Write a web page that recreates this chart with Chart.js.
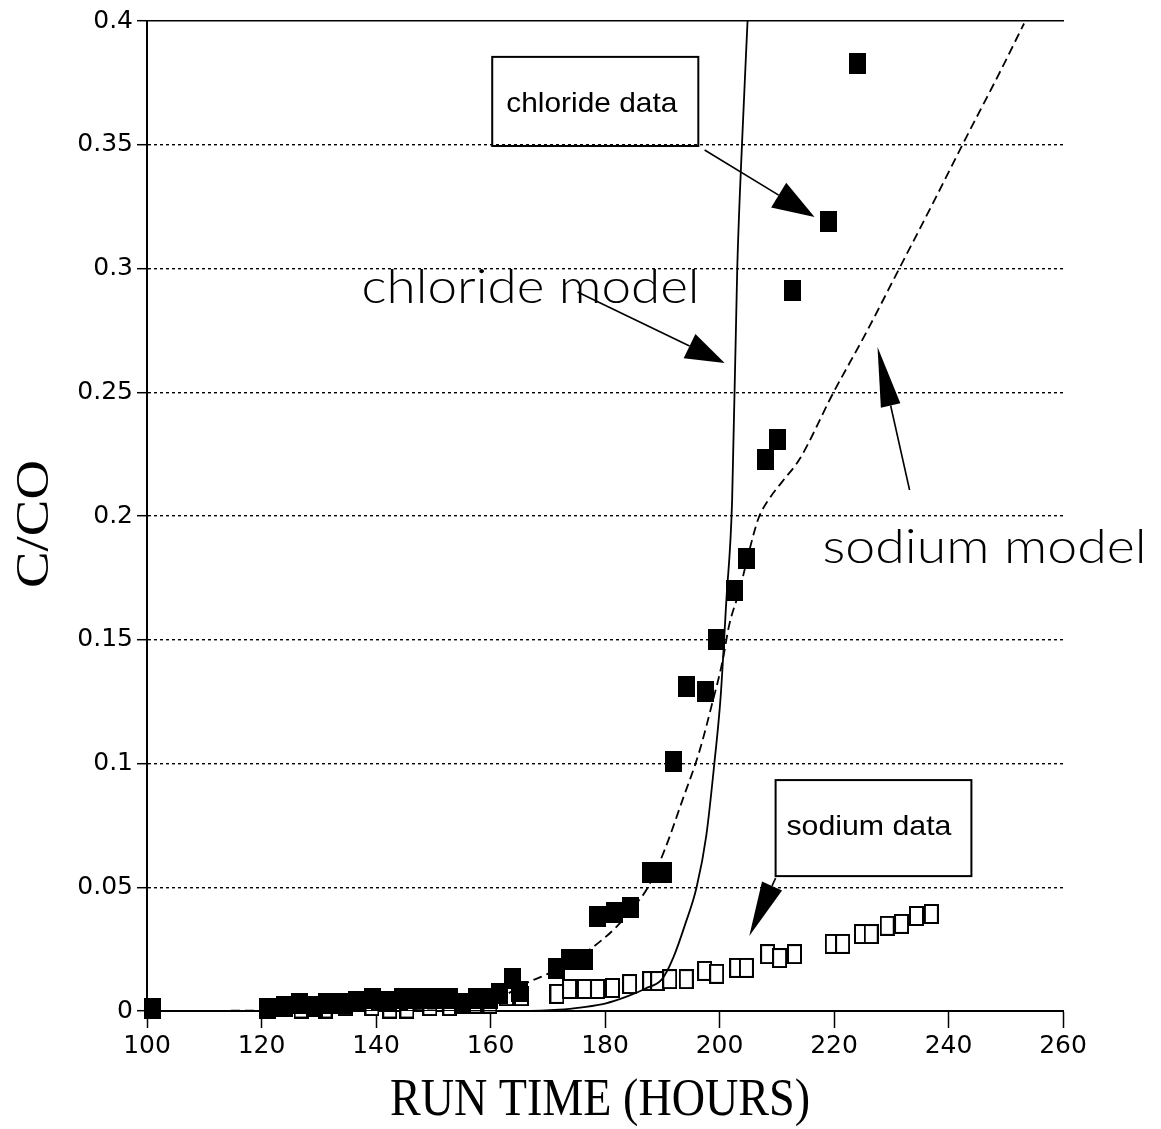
<!DOCTYPE html>
<html>
<head>
<meta charset="utf-8">
<script src="https://cdn.jsdelivr.net/npm/chart.js@4/dist/chart.umd.min.js"></script>
<style>
html,body{margin:0;padding:0;background:#fff;}
#wrap{width:1161px;height:1129px;position:relative;}
</style>
</head>
<body>
<div id="wrap"><canvas id="c" width="1161" height="1129"></canvas></div>
<script>
// ---------- data ----------
const xTicks = [100,120,140,160,180,200,220,240,260];
const yTicks = [0,0.05,0.1,0.15,0.2,0.25,0.3,0.35,0.4];
const yTickLabels = ['0','0.05','0.1','0.15','0.2','0.25','0.3','0.35','0.4'];
const xTitle = 'RUN TIME (HOURS)';
const yTitle = 'C/CO';

const chlorideHours = [100.9,121.1,124.1,126.7,129.3,131.4,134.2,136.6,139.4,142,144.7,147.6,150.3,152.9,155.1,157.6,159.9,161.6,163.9,165.1,171.6,173.8,176.4,178.7,181.7,184.5,188,190.3,192,194.2,197.6,199.5,202.6,204.7,208,210.1,212.7,219,224.1];
const chlorideConc  = [0.001,0.001,0.002,0.003,0.002,0.003,0.003,0.004,0.005,0.004,0.005,0.005,0.005,0.005,0.003,0.005,0.005,0.007,0.013,0.008,0.017,0.021,0.021,0.038,0.040,0.042,0.056,0.056,0.101,0.131,0.129,0.150,0.170,0.183,0.223,0.231,0.291,0.319,0.383];

const sodiumHours = [126.9,131.1,134.6,139.3,142.4,145.4,149.4,152.9,157.2,159.9,162.8,165.4,171.6,173.8,176.4,178.7,181.3,184.3,187.8,189.2,191.3,194.2,197.4,199.5,203,204.7,208.4,210.5,213.1,219.7,221.5,224.8,226.5,229.3,231.8,234.4,237];
const sodiumConc  = [0.001,0.001,0.002,0.002,0.001,0.001,0.002,0.002,0.003,0.003,0.006,0.006,0.0069,0.0089,0.0089,0.0089,0.0093,0.0109,0.0121,0.0121,0.0129,0.0129,0.0162,0.0150,0.0174,0.0174,0.0230,0.0214,0.0230,0.0271,0.0271,0.0311,0.0311,0.0344,0.0352,0.0384,0.0392];

const chlorideModelHours = [100,165,172,176,180,184,187,190,192,194,196,197.7,199.1,200.2,201.2,202.2,203.1,204,204.9];
const chlorideModelConc  = [0,0,0.0005,0.0015,0.003,0.006,0.009,0.013,0.022,0.035,0.050,0.071,0.100,0.127,0.166,0.206,0.300,0.354,0.400];

const sodiumModelHours = [100,150,158,163,166,170,174,178,182,185,187.5,190.4,193.5,196.5,198.8,200.5,201.7,203.5,205.2,206.8,208.7,211,214,219.7,225.6,231.4,237.2,243.1,248.9,253.2];
const sodiumModelConc  = [0,0.001,0.003,0.007,0.011,0.015,0.020,0.026,0.034,0.042,0.050,0.065,0.085,0.105,0.125,0.141,0.156,0.170,0.186,0.199,0.207,0.214,0.223,0.249,0.274,0.300,0.326,0.353,0.379,0.399];

// ---------- annotations (data coordinates) ----------
const noteBoxes = [
  {x1:160.3, x2:196.3, y1:0.3855, y2:0.3495},
  {x1:209.8, x2:244.0, y1:0.0933, y2:0.0545}
];
const noteTexts = [
  {text:'chloride data',  x:177.7, y:0.3632, font:'28px "Liberation Sans"', width:171},
  {text:'sodium data',    x:226.1, y:0.0711, font:'28px "Liberation Sans"', width:165},
  {text:'chloride model', x:167.0, y:0.2861, font:'300 48px Lato', width:338},
  {text:'sodium model',   x:246.3, y:0.1810, font:'300 48px Lato', width:324}
];
const noteArrows = [
  {x1:197.4, y1:0.3479, x2:216.6, y2:0.3208, head:42, hw:29},
  {x1:175.2, y1:0.2905, x2:200.9, y2:0.2618, head:39, hw:27},
  {x1:233.2, y1:0.2105, x2:227.6, y2:0.2683, head:60, hw:20},
  {x1:209.8, y1:0.0537, x2:205.2, y2:0.0303, head:55, hw:22}
];

// ---------- helpers ----------
function makeRect(w, h, fill, stroke, lw) {
  const c = document.createElement('canvas');
  c.width = w; c.height = h;
  const g = c.getContext('2d');
  g.fillStyle = fill; g.fillRect(0, 0, w, h);
  if (stroke) { g.strokeStyle = stroke; g.lineWidth = lw; g.strokeRect(lw/2, lw/2, w-lw, h-lw); }
  return c;
}
function drawFitted(ctx, text, font, cx, by, targetW, rot) {
  ctx.save();
  ctx.translate(cx, by);
  ctx.rotate(rot || 0);
  ctx.font = font;
  const w = ctx.measureText(text).width;
  ctx.scale(targetW / w, 1);
  ctx.textAlign = 'center';
  ctx.textBaseline = 'alphabetic';
  ctx.fillStyle = '#000';
  ctx.fillText(text, 0, 0);
  ctx.restore();
}
const filledSquare = makeRect(17, 21, '#000', null, 0);
const openSquare = makeRect(15, 20, '#fff', '#000', 2);

const toXY = (xs, ys) => xs.map((v, i) => ({x: v, y: ys[i]}));

const notesPlugin = {
  id: 'notes',
  afterDatasetsDraw(chart) {
    const {ctx, scales: {x, y}} = chart;
    ctx.save();
    ctx.strokeStyle = '#000';
    ctx.fillStyle = '#000';
    ctx.lineWidth = 2;
    for (const b of noteBoxes) {
      const l = x.getPixelForValue(b.x1), r = x.getPixelForValue(b.x2);
      const t = y.getPixelForValue(b.y1), bt = y.getPixelForValue(b.y2);
      ctx.strokeRect(l, t, r - l, bt - t);
    }
    for (const n of noteTexts) {
      drawFitted(ctx, n.text, n.font, x.getPixelForValue(n.x), y.getPixelForValue(n.y), n.width, 0);
    }
    for (const a of noteArrows) {
      const tx = x.getPixelForValue(a.x1), ty = y.getPixelForValue(a.y1);
      const px = x.getPixelForValue(a.x2), py = y.getPixelForValue(a.y2);
      const d = Math.hypot(px - tx, py - ty);
      const ux = (px - tx) / d, uy = (py - ty) / d;
      const bx = px - ux * a.head, by = py - uy * a.head;
      const nx = -uy, ny = ux;
      ctx.lineWidth = 1.6;
      ctx.beginPath(); ctx.moveTo(tx, ty); ctx.lineTo(bx, by); ctx.stroke();
      ctx.beginPath();
      ctx.moveTo(px, py);
      ctx.lineTo(bx + nx * a.hw / 2, by + ny * a.hw / 2);
      ctx.lineTo(bx - nx * a.hw / 2, by - ny * a.hw / 2);
      ctx.closePath(); ctx.fill();
    }
    ctx.restore();
  },
  afterDraw(chart) {
    const {ctx, chartArea: ca} = chart;
    drawFitted(ctx, xTitle, '53px "Liberation Serif"', (ca.left + ca.right) / 2 - 5, ca.bottom + 104, 420, 0);
    drawFitted(ctx, yTitle, '46px "Liberation Serif"', ca.left - 99, (ca.top + ca.bottom) / 2 + 8, 128, -Math.PI / 2);
  }
};

const tickFont = {family: '"DejaVu Sans"', size: 25};

new Chart(document.getElementById('c'), {
  type: 'scatter',
  data: {
    datasets: [
      {label: 'chloride data', data: toXY(chlorideHours, chlorideConc), pointStyle: filledSquare, pointRadius: 10, clip: false, showLine: false},
      {label: 'chloride model', data: toXY(chlorideModelHours, chlorideModelConc), showLine: true, pointRadius: 0, borderColor: '#000', borderWidth: 1.8, cubicInterpolationMode: 'monotone'},
      {label: 'sodium model', data: toXY(sodiumModelHours, sodiumModelConc), showLine: true, pointRadius: 0, borderColor: '#000', borderWidth: 1.8, borderDash: [9, 5], cubicInterpolationMode: 'monotone'},
      {label: 'sodium data', data: toXY(sodiumHours, sodiumConc), pointStyle: openSquare, pointRadius: 10, clip: false, showLine: false}
    ]
  },
  options: {
    responsive: false,
    animation: false,
    devicePixelRatio: 1,
    events: [],
    layout: {padding: {top: 21, right: 98, bottom: 0, left: 0}},
    plugins: {legend: {display: false}, tooltip: {enabled: false}},
    scales: {
      x: {
        type: 'linear', position: 'bottom', min: 100, max: 260,
        afterBuildTicks: s => { s.ticks = xTicks.map(v => ({value: v})); },
        afterFit: s => { s.height = 118; },
        ticks: {font: tickFont, color: '#000', padding: 3, maxRotation: 0, autoSkip: false, callback: v => String(v)},
        grid: {display: true, drawOnChartArea: false, drawTicks: true, tickLength: 17, tickColor: '#000', tickWidth: 1.5},
        border: {display: true, color: '#000', width: 2}
      },
      xTop: {
        type: 'linear', position: 'top', min: 100, max: 260,
        afterFit: s => { s.height = 0; },
        ticks: {display: false},
        grid: {display: false, drawTicks: false},
        border: {display: true, color: '#000', width: 1.6}
      },
      y: {
        type: 'linear', position: 'left', min: 0, max: 0.4,
        afterBuildTicks: s => { s.ticks = yTicks.map(v => ({value: v})); },
        afterFit: s => { s.width = 147; },
        ticks: {font: tickFont, color: '#000', padding: 4, autoSkip: false,
                callback: (v, i) => yTickLabels[i]},
        grid: {display: true, drawOnChartArea: true, drawTicks: true, tickLength: 10, tickColor: '#000', tickWidth: 1.5,
               lineWidth: 1.4,
               color: c => (c.tick && (c.tick.value === 0 || c.tick.value === 0.4)) ? 'rgba(0,0,0,0)' : '#000'},
        border: {display: true, color: '#000', width: 2, dash: [3, 3]}
      }
    }
  },
  plugins: [notesPlugin]
});
</script>
</body>
</html>
